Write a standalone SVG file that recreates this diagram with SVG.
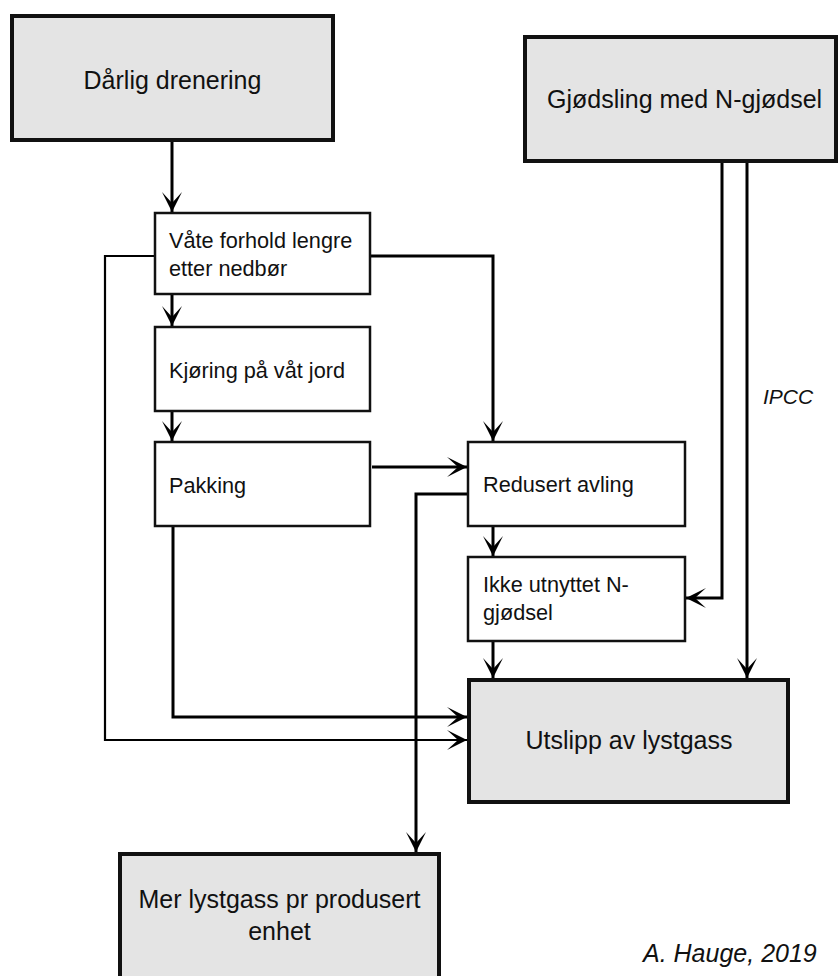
<svg xmlns="http://www.w3.org/2000/svg" width="840" height="976" viewBox="0 0 840 976">
<style>
.big{fill:#e4e4e4;stroke:#111;stroke-width:4}
.small{fill:#fff;stroke:#111;stroke-width:2.5}
.t{font-family:"Liberation Sans",Arial,sans-serif;fill:#111}
.tb{font-size:25px}
.ts{font-size:21.7px}
.it{font-style:italic}
.c{fill:none;stroke:#000;stroke-width:3;marker-end:url(#ah)}
.thin{stroke-width:2.2}
</style>
<defs>
<marker id="ah" viewBox="-20 -10 20 20" refX="0" refY="0" markerWidth="20" markerHeight="20" markerUnits="userSpaceOnUse" orient="auto">
<path d="M0,0 L-20,-10 L-9,0 L-20,10 Z" fill="#000"/>
</marker>
</defs>
<rect width="840" height="976" fill="#fff"/>
<g id="connectors">
<path class="c" d="M172,142 V212"/>
<path class="c" d="M172,295 V326"/>
<path class="c" d="M172,412 V441"/>
<path class="c" d="M371,256 H493 V441"/>
<path class="c thin" d="M154,256 H105 V740 H467"/>
<path class="c" d="M372,467 H467"/>
<path class="c" d="M173,527 V717 H467"/>
<path class="c" d="M467,494 H416 V852"/>
<path class="c" d="M493,527 V556"/>
<path class="c" d="M493,642 V678"/>
<path class="c" d="M722,163 V598 H686"/>
<path class="c" d="M747,163 V678"/>
</g>
<g id="darlig">
<rect class="big" x="12" y="16" width="321" height="124"/>
<text class="t tb" x="172.5" y="89" text-anchor="middle">Dårlig drenering</text>
</g>
<g id="gjodsling">
<rect class="big" x="525" y="37" width="311" height="124"/>
<text class="t tb" x="547" y="108">Gjødsling med N-gjødsel</text>
</g>
<g id="vate">
<rect class="small" x="155" y="213" width="215" height="81"/>
<text class="t ts" x="169" y="248">Våte forhold lengre</text>
<text class="t ts" x="169" y="276">etter nedbør</text>
</g>
<g id="kjoring">
<rect class="small" x="155" y="327" width="215" height="84"/>
<text class="t ts" x="169" y="378">Kjøring på våt jord</text>
</g>
<g id="pakking">
<rect class="small" x="155" y="442" width="215" height="84"/>
<text class="t ts" x="169" y="493">Pakking</text>
</g>
<g id="redusert">
<rect class="small" x="468" y="442" width="217" height="84"/>
<text class="t ts" x="483" y="492">Redusert avling</text>
</g>
<g id="ikke">
<rect class="small" x="468" y="557" width="217" height="84"/>
<text class="t ts" x="483" y="592">Ikke utnyttet N-</text>
<text class="t ts" x="483" y="620">gjødsel</text>
</g>
<g id="utslipp">
<rect class="big" x="469" y="680" width="319" height="122"/>
<text class="t tb" x="629" y="749" text-anchor="middle">Utslipp av lystgass</text>
</g>
<g id="mer">
<rect class="big" x="120" y="854" width="319" height="140"/>
<text class="t tb" x="279.5" y="908" text-anchor="middle">Mer lystgass pr produsert</text>
<text class="t tb" x="279.5" y="940" text-anchor="middle">enhet</text>
</g>
<g id="labels">
<text class="t it" font-size="21" x="763" y="404">IPCC</text>
<text class="t it tb" x="643" y="962">A. Hauge, 2019</text>
</g>
</svg>
